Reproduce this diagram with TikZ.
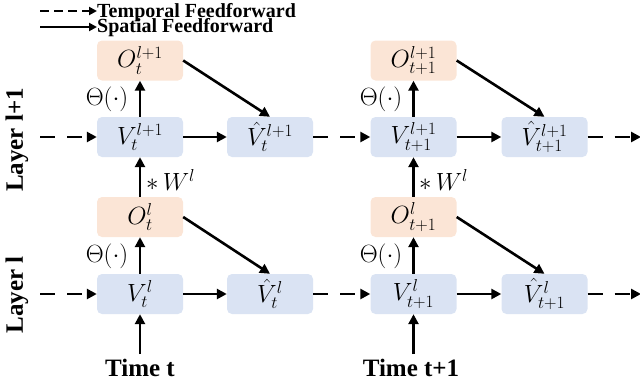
\documentclass[tikz,border=0pt]{standalone}
\usepackage{fontspec}
\setmainfont{Liberation Serif}
\usetikzlibrary{arrows.meta}
\definecolor{ofill}{HTML}{FBE5D6}
\definecolor{bfill}{HTML}{DAE3F3}
\begin{document}
\begin{tikzpicture}[x=1pt,y=-1pt,
  box/.style={minimum width=86pt,minimum height=40pt,rounded corners=5pt,inner sep=0pt,font=\fontsize{26}{26}\selectfont},
  obox/.style={box,fill=ofill},
  vbox/.style={box,fill=bfill},
  sp/.style={line width=2.6pt,-{Triangle[length=10pt,width=10pt]}},
  tp/.style={sp,dash pattern=on 15pt off 12pt},
  lsp/.style={line width=2pt,-{Triangle[length=8pt,width=8pt]}},
  ltp/.style={lsp,dash pattern=on 9pt off 5pt},
  lab/.style={font=\bfseries\fontsize{25}{25}\selectfont,inner sep=0pt},
  leg/.style={font=\bfseries\fontsize{20}{20}\selectfont,inner sep=0pt,anchor=base west},
  mlab/.style={font=\fontsize{24}{24}\selectfont,inner sep=0pt}
]
\useasboundingbox (0,0) rectangle (640,386);
% legend
\coordinate (l1a) at (40,11);
\coordinate (l1b) at (97,11);
\coordinate (l2a) at (40,27);
\coordinate (l2b) at (97,27);
\draw[ltp] (l1a) -- (l1b);
\draw[lsp] (l2a) -- (l2b);
\node[leg] (lt) at (97,17) {Temporal Feedforward};
\node[leg] (ls) at (97,32.5) {Spatial Feedforward};
% layer labels
\node[lab,rotate=90] (L2) at (17,140) {Layer l+1};
\node[lab,rotate=90] (L1) at (17,295) {Layer l};
% boxes
\node[obox] (O1u) at (140,60.5) {$O_t^{l+1}$};
\node[vbox] (V1u) at (140,137) {$V_t^{l+1}$};
\node[vbox] (H1u) at (270,137) {$\hat V_t^{l+1}$};
\node[obox] (O2u) at (413.5,60.5) {$O_{t+1}^{l+1}$};
\node[vbox] (V2u) at (413.5,137) {$V_{t+1}^{l+1}$};
\node[vbox] (H2u) at (544.5,137) {$\hat V_{t+1}^{l+1}$};
\node[obox] (O1l) at (140,217) {$O_t^{l}$};
\node[vbox] (V1l) at (140,294) {$V_t^{l}$};
\node[vbox] (H1l) at (270,294) {$\hat V_t^{l}$};
\node[obox] (O2l) at (413.5,217) {$O_{t+1}^{l}$};
\node[vbox] (V2l) at (413.5,294) {$V_{t+1}^{l}$};
\node[vbox] (H2l) at (544.5,294) {$\hat V_{t+1}^{l}$};
% time labels
\node[lab] (T1) at (140,368) {Time t};
\node[lab] (T2) at (411,368) {Time t+1};
\coordinate (ts1) at (140,354);
\coordinate (ts2) at (413.5,354);
% temporal arrows
\coordinate (su) at (40,137);
\coordinate (sl) at (40,294);
\coordinate (eu) at (641,137);
\coordinate (el) at (641,294);
\draw[tp] (su) -- (V1u);
\draw[tp] (H1u) -- (V2u);
\draw[tp] (H2u) -- (eu);
\draw[tp] (sl) -- (V1l);
\draw[tp] (H1l) -- (V2l);
\draw[tp] (H2l) -- (el);
% spatial arrows
\foreach \c in {1,2}{
  \draw[sp] (V\c u) -- (O\c u);
  \draw[sp] (V\c l) -- (O\c l);
  \draw[sp] (V\c u) -- (H\c u);
  \draw[sp] (V\c l) -- (H\c l);
  \draw[sp] (O\c u.east) -- (H\c u.north);
  \draw[sp] (O\c l.east) -- (H\c l.north);
  \draw[sp] (O\c l) -- (V\c u);
  \draw[sp] (ts\c) -- (V\c l);
}
% arrow labels
\node[mlab] (th1u) at (107,99) {$\Theta(\cdot)$};
\node[mlab] (th1l) at (107,256) {$\Theta(\cdot)$};
\node[mlab] (th2u) at (381,99) {$\Theta(\cdot)$};
\node[mlab] (th2l) at (381,256) {$\Theta(\cdot)$};
\node[mlab,anchor=west] (w1) at (146,180) {$*\,W^l$};
\node[mlab,anchor=west] (w2) at (419,180) {$*\,W^l$};
\end{tikzpicture}
\end{document}
